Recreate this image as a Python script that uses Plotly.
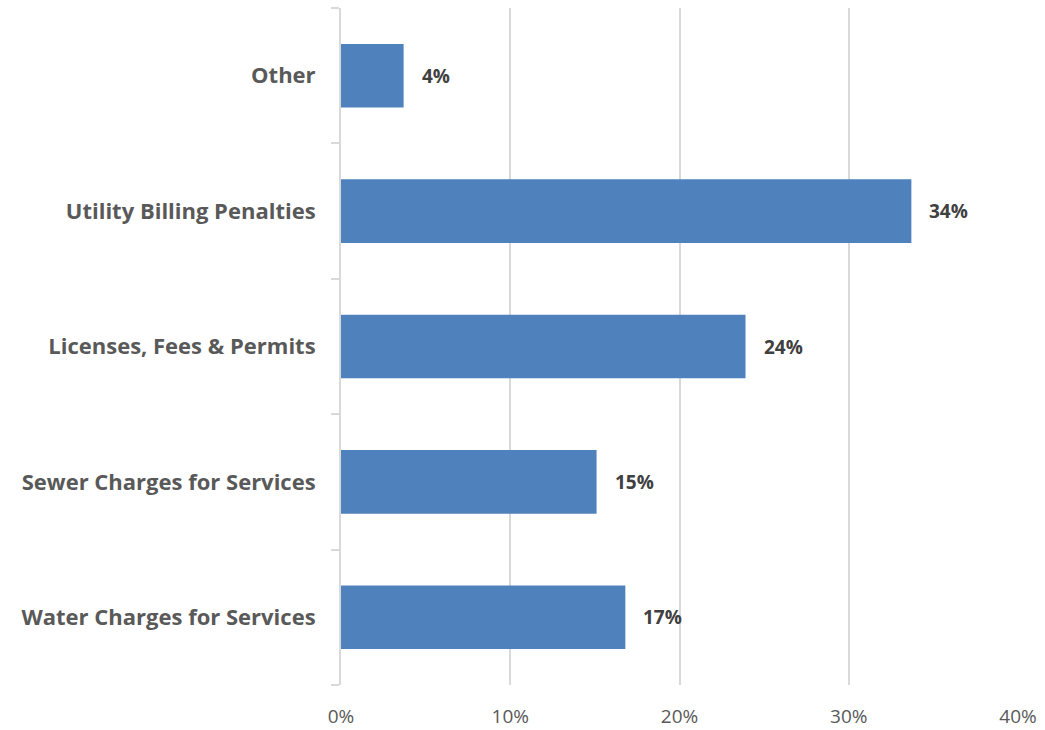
import plotly.graph_objects as go

categories = ["Water Charges for Services", "Sewer Charges for Services",
              "Licenses, Fees & Permits", "Utility Billing Penalties", "Other"]
values = [16.8, 15.1, 23.9, 33.7, 3.7]
labels = ["17%", "15%", "24%", "34%", "4%"]
x_ticks = [0, 10, 20, 30, 40]
x_tick_labels = ["0%", "10%", "20%", "30%", "40%"]

FONT = "Open Sans"

fig = go.Figure()
fig.add_trace(go.Bar(
    y=categories, x=values, orientation="h",
    marker=dict(color="#4f81bd", line=dict(width=0)),
    width=0.47, hoverinfo="skip",
))

for c, v, t in zip(categories, values, labels):
    fig.add_annotation(x=v, y=c, text=t, showarrow=False, xanchor="left",
                       xshift=16, font=dict(family=FONT, size=19, color="#404040", weight="bold"))

fig.update_layout(
    width=1045, height=730,
    margin=dict(l=341, r=27, t=8, b=45),
    plot_bgcolor="white", paper_bgcolor="white",
    showlegend=False,
    xaxis=dict(range=[0, 40], tickvals=x_ticks, ticktext=x_tick_labels,
               showgrid=True, gridcolor="#d9d9d9", gridwidth=2,
               zeroline=False, showline=False, ticks="",
               ticklabelstandoff=18, automargin=False,
               tickfont=dict(family=FONT, size=19, color="#595959")),
    yaxis=dict(categoryorder="array", categoryarray=categories,
               showline=True, linecolor="#d9d9d9", linewidth=2,
               ticks="outside", ticklen=8, tickcolor="#d9d9d9", tickwidth=2,
               tickson="boundaries", ticklabelstandoff=19, automargin=False,
               tickfont=dict(family=FONT, size=22, color="#595959", weight="bold")),
)

fig.write_html("out.html")
